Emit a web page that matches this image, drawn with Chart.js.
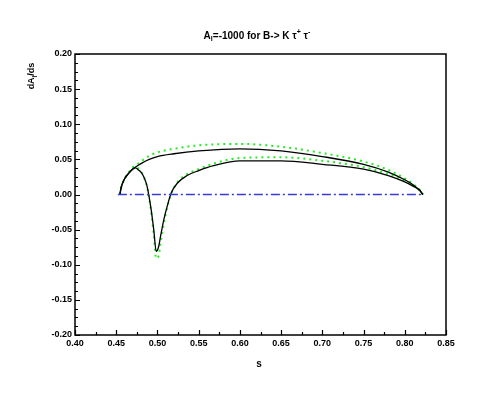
<!DOCTYPE html>
<html>
<head>
<meta charset="utf-8">
<script src="https://cdn.jsdelivr.net/npm/chart.js@4"></script>
<style>
  body { margin: 0; background: #fff; }
  canvas { display: block; }
</style>
</head>
<body>
<canvas id="grafico" width="485" height="399"></canvas>
<script>
// valores
const sUpper = [0.4544, 0.456, 0.46, 0.465, 0.4735, 0.48, 0.49, 0.50, 0.52, 0.55, 0.60, 0.65, 0.70, 0.75, 0.78, 0.80, 0.81, 0.818, 0.822];
const negroUpper = [0, 0.010, 0.022, 0.030, 0.039, 0.044, 0.050, 0.054, 0.058, 0.062, 0.065, 0.062, 0.054, 0.043, 0.032, 0.021, 0.014, 0.006, 0];
const verdeUpper = [0, 0.010, 0.022, 0.031, 0.041, 0.047, 0.055, 0.060, 0.065, 0.070, 0.072, 0.068, 0.059, 0.047, 0.035, 0.023, 0.015, 0.007, 0];

const sLower = [0.4544, 0.456, 0.46, 0.465, 0.4705, 0.4735, 0.477, 0.4805, 0.4835, 0.4876, 0.4924, 0.4956, 0.4985, 0.5015, 0.5037, 0.5077, 0.5118, 0.5167, 0.524, 0.536, 0.55, 0.568, 0.60, 0.65, 0.70, 0.75, 0.78, 0.80, 0.81, 0.818, 0.822];
const negroLower = [0, 0.010, 0.022, 0.030, 0.037, 0.038, 0.035, 0.031, 0.025, 0.011, -0.022, -0.051, -0.081, -0.074, -0.060, -0.036, -0.017, 0.002, 0.016, 0.027, 0.034, 0.041, 0.048, 0.048, 0.043, 0.036, 0.027, 0.018, 0.012, 0.006, 0];
const verdeLower = [0, 0.010, 0.022, 0.031, 0.039, 0.040, 0.037, 0.032, 0.025, 0.010, -0.025, -0.058, -0.091, -0.087, -0.070, -0.042, -0.019, 0.001, 0.017, 0.029, 0.036, 0.044, 0.052, 0.053, 0.048, 0.039, 0.029, 0.020, 0.013, 0.006, 0];

const sCero = [0.452, 0.822];
const cero = [0, 0];

const xTicks = [0.40, 0.45, 0.50, 0.55, 0.60, 0.65, 0.70, 0.75, 0.80, 0.85];
const yTicks = [-0.20, -0.15, -0.10, -0.05, 0.00, 0.05, 0.10, 0.15, 0.20];

function puntos(xs, ys) {
    return xs.map((x, i) => ({ x: x, y: ys[i] }));
}

const fuente = 'bold 9px "Liberation Sans", Arial, sans-serif';

// escribe texto con subindices / superindices
function textoRico(ctx, partes, x, y, size) {
    let ancho = 0;
    for (let p of partes) {
        ctx.font = 'bold ' + (p.s ? size * 0.7 : size) + 'px "Liberation Sans", Arial, sans-serif';
        ancho += ctx.measureText(p.t).width;
    }
    let cx = x - ancho / 2;
    ctx.textAlign = 'left';
    ctx.textBaseline = 'middle';
    for (let p of partes) {
        ctx.font = 'bold ' + (p.s ? size * 0.7 : size) + 'px "Liberation Sans", Arial, sans-serif';
        let dy = p.s === 'sub' ? size * 0.35 : (p.s === 'sup' ? -size * 0.4 : 0);
        ctx.fillText(p.t, cx, y + dy);
        cx += ctx.measureText(p.t).width;
    }
}

const marco = {
    id: 'marco',
    afterDraw(chart) {
        const ctx = chart.ctx;
        const a = chart.chartArea;
        const sx = chart.scales.x;
        const sy = chart.scales.y;
        ctx.save();
        ctx.strokeStyle = '#000';
        ctx.lineWidth = 1.5;
        ctx.strokeRect(a.left, a.top, a.right - a.left, a.bottom - a.top);

        ctx.lineWidth = 1.2;
        ctx.beginPath();
        // ticks hacia adentro
        for (let i = 0; i <= 18; i++) {
            const v = 0.40 + i * 0.025;
            const px = Math.round(sx.getPixelForValue(v)) + 0.5;
            const len = i % 2 === 0 ? 5 : 3;
            ctx.moveTo(px, a.bottom);
            ctx.lineTo(px, a.bottom - len);
        }
        for (let i = 0; i <= 32; i++) {
            const v = -0.20 + i * 0.0125;
            const py = Math.round(sy.getPixelForValue(v)) + 0.5;
            const len = i % 4 === 0 ? 5 : 3;
            ctx.moveTo(a.left, py);
            ctx.lineTo(a.left + len, py);
        }
        ctx.stroke();

        ctx.fillStyle = '#000';
        textoRico(ctx, [
            { t: 'A' }, { t: 'l', s: 'sub' }, { t: '=-1000 for B-> K \u03c4' }, { t: '+', s: 'sup' },
            { t: ' \u03c4' }, { t: '-', s: 'sup' }
        ], 257, 36, 10);

        textoRico(ctx, [{ t: 's' }], 259, 364, 10);

        ctx.translate(32, 76);
        ctx.rotate(-Math.PI / 2);
        textoRico(ctx, [{ t: 'dA' }, { t: 'l', s: 'sub' }, { t: '/ds' }], 0, 0, 9);
        ctx.restore();
    }
};

function formato(v) {
    if (Math.abs(v) < 1e-9) return '0.00';
    return v.toFixed(2);
}

new Chart(document.getElementById('grafico').getContext('2d'), {
    type: 'scatter',
    data: {
        datasets: [
            {
                label: 'cero',
                data: puntos(sCero, cero),
                showLine: true,
                borderColor: '#3a3ad8',
                borderWidth: 1.3,
                borderDash: [9, 3, 2, 3],
                pointRadius: 0
            },
            {
                label: 'negro1',
                data: puntos(sUpper, negroUpper),
                showLine: true,
                borderColor: '#000',
                borderWidth: 1.3,
                pointRadius: 0,
                cubicInterpolationMode: 'monotone'
            },
            {
                label: 'negro2',
                data: puntos(sLower, negroLower),
                showLine: true,
                borderColor: '#000',
                borderWidth: 1.3,
                pointRadius: 0,
                cubicInterpolationMode: 'monotone'
            },
            {
                label: 'verde1',
                data: puntos(sUpper, verdeUpper),
                showLine: true,
                borderColor: '#22ee22',
                borderWidth: 2,
                borderDash: [2, 4],
                pointRadius: 0,
                cubicInterpolationMode: 'monotone'
            },
            {
                label: 'verde2',
                data: puntos(sLower, verdeLower),
                showLine: true,
                borderColor: '#22ee22',
                borderWidth: 2,
                borderDash: [2, 4],
                pointRadius: 0,
                cubicInterpolationMode: 'monotone'
            }
        ]
    },
    options: {
        responsive: false,
        animation: false,
        layout: { padding: { left: 0, right: 39, top: 54, bottom: 0 } },
        plugins: {
            legend: { display: false },
            tooltip: { enabled: false }
        },
        scales: {
            x: {
                type: 'linear',
                min: 0.40,
                max: 0.85,
                afterBuildTicks: (s) => { s.ticks = xTicks.map(v => ({ value: v })); },
                afterFit: (s) => { s.height = 64; },
                ticks: {
                    color: '#000',
                    font: { size: 9, weight: 'bold', family: '"Liberation Sans", Arial, sans-serif' },
                    padding: 3,
                    maxRotation: 0,
                    autoSkip: false,
                    callback: formato
                },
                grid: { display: false, drawTicks: false },
                border: { display: false }
            },
            y: {
                type: 'linear',
                min: -0.20,
                max: 0.20,
                afterBuildTicks: (s) => { s.ticks = yTicks.map(v => ({ value: v })); },
                afterFit: (s) => { s.width = 75; },
                ticks: {
                    color: '#000',
                    font: { size: 9, weight: 'bold', family: '"Liberation Sans", Arial, sans-serif' },
                    padding: 3,
                    autoSkip: false,
                    callback: formato
                },
                grid: { display: false, drawTicks: false },
                border: { display: false }
            }
        }
    },
    plugins: [marco]
});
</script>
</body>
</html>
